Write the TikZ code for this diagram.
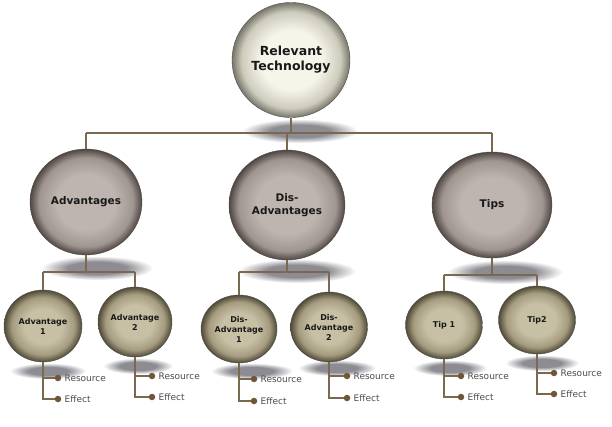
\documentclass[tikz,border=0pt]{standalone}
\usepackage{fontspec}
\setmainfont{DejaVu Sans}
\usetikzlibrary{shapes.geometric}
\definecolor{rootin}{RGB}{246,245,234}
\definecolor{rootmid}{RGB}{205,203,188}
\definecolor{rootout}{RGB}{120,118,105}
\definecolor{midin}{RGB}{190,180,176}
\definecolor{midmid}{RGB}{160,150,145}
\definecolor{midout}{RGB}{80,70,66}
\definecolor{lowin}{RGB}{200,192,165}
\definecolor{lowmid}{RGB}{165,156,128}
\definecolor{lowout}{RGB}{80,74,55}
\definecolor{shadowc}{RGB}{140,140,146}
\definecolor{linec}{RGB}{122,104,80}
\definecolor{dotc}{RGB}{110,86,55}
\definecolor{labc}{RGB}{75,75,75}
\pgfdeclareradialshading{rootsh}{\pgfpoint{0bp}{0bp}}{color(0bp)=(rootin); color(13bp)=(rootin); color(21bp)=(rootmid); color(25bp)=(rootout); color(50bp)=(rootout)}
\pgfdeclareradialshading{midsh}{\pgfpoint{0bp}{0bp}}{color(0bp)=(midin); color(13bp)=(midin); color(21bp)=(midmid); color(25bp)=(midout); color(50bp)=(midout)}
\pgfdeclareradialshading{lowsh}{\pgfpoint{0bp}{0bp}}{color(0bp)=(lowin); color(12bp)=(lowin); color(20bp)=(lowmid); color(25bp)=(lowout); color(50bp)=(lowout)}
\pgfdeclareradialshading{shadsh}{\pgfpoint{0bp}{0bp}}{color(0bp)=(shadowc); color(13bp)=(shadowc); color(25bp)=(white); color(50bp)=(white)}
\tikzset{
  ball/.style={ellipse, inner sep=0pt, align=center, text=black!90, font=\bfseries, draw=black!70, line width=0.4pt},
  rootball/.style={ball, shading=rootsh, font=\bfseries\fontsize{12.5}{15}\selectfont},
  midball/.style={ball, shading=midsh, font=\bfseries\fontsize{10.5}{13}\selectfont},
  lowball/.style={ball, shading=lowsh, font=\bfseries\fontsize{8}{10}\selectfont},
  shad/.style={shading=shadsh},
  conn/.style={draw=linec, line width=1.3pt},
  dotn/.style={circle, fill=dotc, inner sep=0pt, minimum size=6.5pt},
  lab/.style={anchor=west, text=labc, font=\fontsize{9}{11}\selectfont, inner sep=0pt, xshift=3pt}
}
\begin{document}
\begin{tikzpicture}[x=1pt,y=-1pt]
\useasboundingbox (0,0) rectangle (612,427);
% shadows
\path[shad] (300,131) ellipse [x radius=58, y radius=12];
\path[shad] (97,268) ellipse [x radius=56, y radius=12];
\path[shad] (297,271) ellipse [x radius=59, y radius=12];
\path[shad] (505,272) ellipse [x radius=58, y radius=12];
\path[shad] (48,371) ellipse [x radius=38, y radius=8];
\path[shad] (138,366) ellipse [x radius=35, y radius=8];
\path[shad] (252,371) ellipse [x radius=41, y radius=8];
\path[shad] (337,368) ellipse [x radius=39, y radius=8];
\path[shad] (450,368) ellipse [x radius=37, y radius=8];
\path[shad] (542,363) ellipse [x radius=37, y radius=8];
% nodes
\node[rootball, minimum width=118pt, minimum height=115pt] (root) at (291,60) {Relevant\\Technology};
\node[midball, minimum width=112pt, minimum height=106pt] (adv) at (86,202) {Advantages};
\node[midball, minimum width=116pt, minimum height=110pt] (dis) at (287,205) {Dis-\\Advantages};
\node[midball, minimum width=120pt, minimum height=106pt] (tips) at (492,205) {Tips};
\node[lowball, minimum width=78pt, minimum height=72pt] (a1) at (43,326) {Advantage\\1};
\node[lowball, minimum width=74pt, minimum height=70pt] (a2) at (135,322) {Advantage\\2};
\node[lowball, minimum width=76pt, minimum height=68pt] (d1) at (239,329) {Dis-\\Advantage\\1};
\node[lowball, minimum width=77pt, minimum height=70pt] (d2) at (329,327) {Dis-\\Advantage\\2};
\node[lowball, minimum width=77pt, minimum height=68pt] (t1) at (444,325) {Tip 1};
\node[lowball, minimum width=77pt, minimum height=68pt] (t2) at (537,320) {Tip2};
% bus coordinates
\coordinate (b0) at (291,133);
\coordinate (ba) at (86,272);
\coordinate (bd) at (287,272);
\coordinate (bt) at (492,275);
% level 1 connectors
\draw[conn] (root.south) -- (b0);
\draw[conn] (adv.north |- b0) -- (tips.north |- b0);
\draw[conn] (adv.north |- b0) -- (adv.north);
\draw[conn] (dis.north |- b0) -- (dis.north);
\draw[conn] (tips.north |- b0) -- (tips.north);
% level 2 connectors
\draw[conn] (adv.south) -- (ba);
\draw[conn] (a1.north |- ba) -- (a2.north |- ba);
\draw[conn] (a1.north |- ba) -- (a1.north);
\draw[conn] (a2.north |- ba) -- (a2.north);
\draw[conn] (dis.south) -- (bd);
\draw[conn] (d1.north |- bd) -- (d2.north |- bd);
\draw[conn] (d1.north |- bd) -- (d1.north);
\draw[conn] (d2.north |- bd) -- (d2.north);
\draw[conn] (tips.south) -- (bt);
\draw[conn] (t1.north |- bt) -- (t2.north |- bt);
\draw[conn] (t1.north |- bt) -- (t1.north);
\draw[conn] (t2.north |- bt) -- (t2.north);
% leaves
\foreach \n/\x/\yr/\ye in {a1/58/378/399, a2/152/376/397, d1/254/379/401, d2/347/376/398, t1/461/376/397, t2/554/373/394}{
  \node[dotn] (\n r) at (\x,\yr) {};
  \node[dotn] (\n e) at (\x,\ye) {};
  \draw[conn] (\n.south) |- (\n e);
  \draw[conn] (\n.south |- \n r) -- (\n r);
  \node[lab] (\n rl) at (\n r.east) {Resource};
  \node[lab] (\n el) at (\n e.east) {Effect};
}
\end{tikzpicture}
\end{document}
